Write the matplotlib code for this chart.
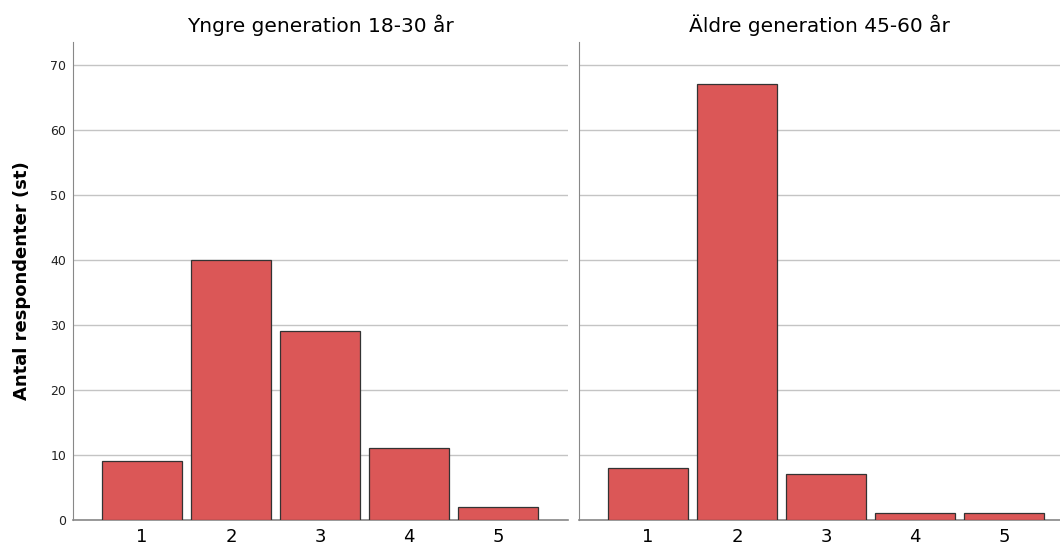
import matplotlib.pyplot as plt

categories = ['1', '2', '3', '4', '5']
young = [9, 40, 29, 11, 2]
old = [8, 67, 7, 1, 1]
titles = ['Yngre generation 18-30 år', 'Äldre generation 45-60 år']

fig = plt.figure(figsize=(10.6, 5.47), dpi=100)
ax1 = fig.add_axes([0.0689, 0.0494, 0.467, 0.8738])
ax2 = fig.add_axes([0.5462, 0.0494, 0.4538, 0.8738])

x = list(range(1, len(categories) + 1))
for ax, vals, title, xmax in [(ax1, young, titles[0], 5.787), (ax2, old, titles[1], 5.63)]:
    ax.bar(x, vals, width=0.9, color='#DB5757', edgecolor='#333333', linewidth=0.9, zorder=3)
    ax.set_xlim(0.225, xmax)
    ax.set_ylim(0, 73.5)
    ax.set_yticks(range(0, 71, 10))
    ax.set_xticks(x)
    ax.set_xticklabels(categories, fontsize=13)
    ax.grid(axis='y', color='#C4C4C4', linewidth=1.0, zorder=0)
    ax.tick_params(length=0, pad=6)
    ax.tick_params(axis='y', labelsize=9, colors='#222222', pad=5)
    for s in ['top', 'right']:
        ax.spines[s].set_visible(False)
    ax.spines['left'].set_color('#888888')
    ax.spines['bottom'].set_color('#888888')
    ax.spines['bottom'].set_linewidth(1.2)
    ax.set_title(title, fontsize=14.5, pad=7)

ax2.set_yticklabels([])
ax1.set_ylabel('Antal respondenter (st)', fontsize=13, fontweight='bold', labelpad=14)

fig.savefig('out.png', dpi=100)
